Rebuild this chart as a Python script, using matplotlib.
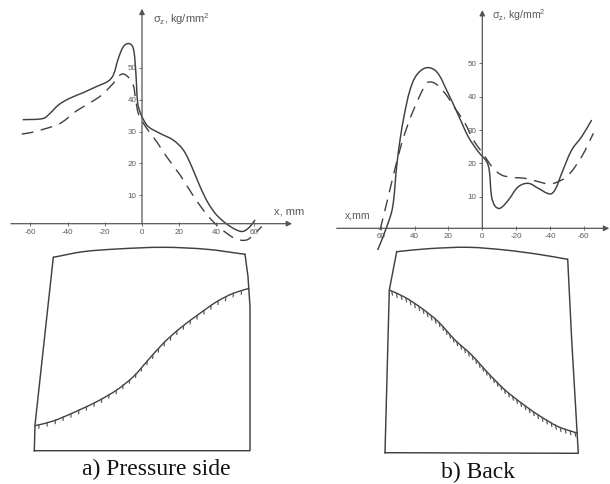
import numpy as np
import matplotlib
matplotlib.use('Agg')
import matplotlib.pyplot as plt
from matplotlib.path import Path
from matplotlib.patches import PathPatch

W, H = 610, 484

# a) pressure side, stress curves (x mm, sigma kg/mm2)
a_solid_x = [-64.1, -53.0, -49.4, -44.9, -39.6, -31.5, -24.4, -18.1, -15.4, -12.7, -10.0, -7.3, -5.0, -3.8, -2.9, -2.3,
             -1.1, 0.7, 3.4, 9.7, 16.8, 22.2, 26.7, 31.2, 35.6, 40.1, 45.5, 50.9, 54.4, 58.0, 60.7]
a_solid_y = [33.7, 34.1, 35.7, 38.3, 40.2, 42.2, 44.1, 45.8, 47.7, 52.9, 56.6, 57.6, 56.6, 52.4, 44.1, 38.8,
             36.2, 33.8, 31.5, 29.4, 27.3, 24.2, 19.0, 12.7, 7.5, 3.8, 1.0, -0.9, -1.3, 0.2, 2.3]
a_dash_x = [-64.6, -58.4, -53.0, -48.5, -43.2, -35.1, -27.9, -21.7, -15.4, -10.9, -7.3, -4.7, -3.4, -2.0,
            -0.2, 2.5, 7.9, 13.2, 20.4, 26.7, 32.9, 38.3, 45.5, 50.9, 56.2, 59.8, 64.3]
a_dash_y = [29.2, 29.8, 30.7, 31.5, 32.8, 36.5, 39.0, 41.4, 45.1, 48.0, 47.0, 44.6, 39.9, 35.7,
            33.6, 31.0, 26.8, 22.1, 16.4, 10.6, 5.4, 1.7, -1.9, -3.8, -4.0, -2.4, 0.2]

# b) back
b_solid_x = [61.8, 57.5, 53.1, 50.6, 48.6, 46.1, 42.7, 38.8, 32.9, 27.0, 21.1, 14.2, 8.3, 2.4, -2.6, -4.1, -5.5,
             -7.5, -10.4, -15.4, -21.3, -27.2, -33.1, -40.0, -42.9, -46.9, -52.8, -58.7, -64.6]
b_solid_y = [-6.0, -0.5, 6.5, 19.0, 27.0, 34.5, 42.0, 46.5, 48.7, 47.5, 42.0, 34.5, 28.0, 23.5, 20.5, 18.0, 10.0,
             7.2, 6.5, 9.0, 13.0, 14.0, 12.5, 10.8, 12.0, 17.0, 24.0, 28.0, 33.0]
b_dash_x = [60.4, 56.5, 52.0, 47.6, 43.7, 39.8, 34.8, 32.3, 28.0, 22.0, 16.1, 10.2, 5.3, 0.4, -6.5, -11.4,
            -17.3, -25.2, -33.1, -40.0, -46.9, -51.8, -58.7, -65.6]
b_dash_y = [0.0, 8.0, 17.5, 26.0, 32.0, 37.0, 42.5, 44.3, 44.0, 41.0, 36.5, 32.0, 27.0, 23.5, 18.5, 16.5,
            15.8, 15.5, 14.5, 13.8, 15.0, 17.0, 22.0, 29.0]

x_ticks = [-60, -40, -20, 0, 20, 40, 60]
x_labels = ['-60', '-40', '-20', '0', '20', '40', '60']
y_ticks = [10, 20, 30, 40, 50]

# blade sketches, picture pixels
blade_a_x = [34.3, 35, 53.3, 83, 117, 163, 207, 245, 248, 250, 250, 34.3]
blade_a_y = [450.7, 425, 257.3, 251.7, 249, 247.3, 249.3, 254.3, 276.7, 306.7, 450.7, 450.7]
edge_a_x = [35, 53.3, 73.3, 96.7, 116.7, 133.3, 146.7, 163.3, 180, 200, 216.7, 233.3, 249.3]
edge_a_y = [425.7, 421, 412.7, 401.7, 390, 376.7, 361.7, 343.3, 328.3, 313.3, 301.7, 293.3, 288.3]
blade_b_x = [385, 389.3, 396.7, 428.3, 468.3, 505, 538.3, 567.7, 571.7, 578.3, 385]
blade_b_y = [452.7, 290, 251.7, 248.7, 247.3, 250, 254.3, 259.3, 340, 453.3, 452.7]
edge_b_x = [389.3, 405, 421.7, 438.3, 455, 471.7, 488.3, 505, 521.7, 538.3, 558.3, 577.7]
edge_b_y = [290, 297.3, 308.3, 321.7, 340, 355, 373.3, 390, 403.3, 415, 426.7, 433.3]

plt.rcParams['font.family'] = ['Liberation Sans', 'DejaVu Sans']
plt.rcParams['mathtext.fontset'] = 'custom'
plt.rcParams['mathtext.rm'] = 'Liberation Sans'
plt.rcParams['mathtext.it'] = 'Liberation Sans'
plt.rcParams['mathtext.bf'] = 'Liberation Sans'

LINE = '#404040'
AXIS = '#555555'
TXT = '#5a5a5a'
DASH = (0, (8.5, 5.5))


def make_axes(fig, box, x0, y0, sx, sy):
    # box in picture pixels, x0/y0 pixel of the origin, sx/sy pixels per unit
    l, t, r, b = box
    ax = fig.add_axes([l / W, 1 - b / H, (r - l) / W, (b - t) / H])
    ax.set_xlim((l - x0) / sx, (r - x0) / sx)
    ax.set_ylim((y0 - b) / sy, (y0 - t) / sy)
    ax.patch.set_alpha(0)
    return ax


def style(ax, axis_y, x_from, x_to, y_top):
    for s in ['top', 'right']:
        ax.spines[s].set_visible(False)
    ax.spines['left'].set_position(('data', 0))
    ax.spines['bottom'].set_position(('data', axis_y))
    ax.spines['left'].set_visible(False)
    ax.spines['bottom'].set_visible(False)
    ax.set_xticks(x_ticks)
    ax.set_xticklabels(x_labels)
    ax.set_yticks(y_ticks)
    ax.tick_params(axis='both', labelsize=5.8, colors=TXT, length=2, width=0.6, pad=2)
    ax.tick_params(axis='x', direction='inout', length=3)
    arrow = dict(arrowstyle='-|>', color=AXIS, lw=0.9, shrinkA=0, shrinkB=0, mutation_scale=8)
    ax.annotate('', xy=(x_to, axis_y), xytext=(x_from, axis_y), arrowprops=arrow)
    ax.annotate('', xy=(0, y_top), xytext=(0, axis_y), arrowprops=arrow)


def curve(ax, xs, ys, **kw):
    # bezier through the read points, so the pen line stays round
    p = ax.transData.transform(np.c_[xs, ys])
    t = np.gradient(p, axis=0)
    t = t / np.linalg.norm(t, axis=1, keepdims=True)
    verts = [p[0]]
    codes = [Path.MOVETO]
    for i in range(len(p) - 1):
        d = np.linalg.norm(p[i + 1] - p[i]) / 3
        verts += [p[i] + t[i] * d, p[i + 1] - t[i + 1] * d, p[i + 1]]
        codes += [Path.CURVE4] * 3
    ax.add_patch(PathPatch(Path(verts, codes), transform=None, fill=False, edgecolor=LINE, clip_on=False, **kw))


def hatch(ax, xs, ys, step, dx, dy):
    # short strokes under the blade edge
    xs, ys = np.array(xs), np.array(ys)
    s = np.r_[0, np.cumsum(np.hypot(np.diff(xs), np.diff(ys)))]
    pos = np.arange(step / 2, s[-1], step)
    px = np.interp(pos, s, xs)
    py = np.interp(pos, s, ys)
    for a, b in zip(px, py):
        ax.plot([a, a + dx], [b, b + dy], color='#555555', lw=0.85)


fig = plt.figure(figsize=(W / 100, H / 100), dpi=100)

ax = make_axes(fig, (0, 0, 305, 250), 142, 227.2, 1.862, 3.19)
style(ax, 1.1, -70.4, 80.6, 68.5)
curve(ax, a_solid_x, a_solid_y, lw=1.05)
curve(ax, a_dash_x, a_dash_y, lw=1.0, ls=DASH)
ax.text(0.502, 0.925, r'$\sigma_z$, kg/mm$^2$', transform=ax.transAxes, fontsize=8, color=TXT, va='center')
ax.text(0.898, 0.156, 'x, mm', transform=ax.transAxes, fontsize=8, color=TXT, va='center')

ax = make_axes(fig, (305, 0, 610, 250), 482.3, 230, -1.693, 3.333)
style(ax, 0.5, 86, -75, 66)
curve(ax, b_solid_x, b_solid_y, lw=1.05)
curve(ax, b_dash_x, b_dash_y, lw=1.0, ls=DASH)
ax.text(0.612, 0.94, r'$\sigma_z$, kg/mm$^2$', transform=ax.transAxes, fontsize=7.6, color=TXT, va='center')
ax.text(0.13, 0.14, 'x,mm', transform=ax.transAxes, fontsize=7.6, color=TXT, va='center')

over = fig.add_axes([0, 0, 1, 1])
over.set_xlim(0, W)
over.set_ylim(H, 0)
over.axis('off')
over.patch.set_alpha(0)
over.plot(blade_a_x[:3], blade_a_y[:3], color=LINE, lw=1.05)
curve(over, blade_a_x[2:8], blade_a_y[2:8], lw=1.05)
over.plot(blade_a_x[7:], blade_a_y[7:], color=LINE, lw=1.05)
curve(over, edge_a_x, edge_a_y, lw=1.0)
hatch(over, edge_a_x, edge_a_y, 8.5, -0.3, 3.5)
over.plot(blade_b_x[:3], blade_b_y[:3], color=LINE, lw=1.05)
curve(over, blade_b_x[2:8], blade_b_y[2:8], lw=1.05)
over.plot(blade_b_x[7:], blade_b_y[7:], color=LINE, lw=1.05)
curve(over, edge_b_x, edge_b_y, lw=1.0)
hatch(over, edge_b_x, edge_b_y, 5.2, 0.8, 4)
over.text(156.5, 469, 'a) Pressure side', family='Liberation Serif', fontsize=17, color='#111111', ha='center', va='center')
over.text(477.7, 472, 'b) Back', family='Liberation Serif', fontsize=17, color='#111111', ha='center', va='center')

fig.savefig('out.png', dpi=100)
